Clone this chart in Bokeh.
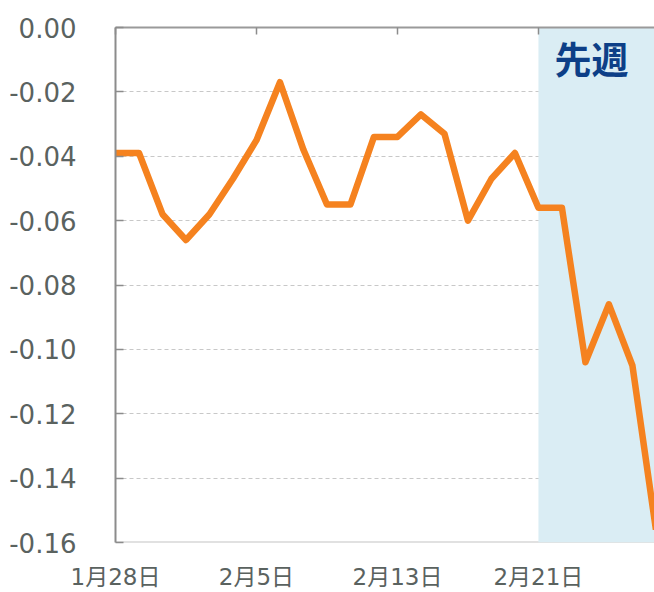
from bokeh.plotting import figure
from bokeh.models import (ColumnDataSource, FixedTicker, BoxAnnotation, Label, Span,
                          LinearAxis, NumeralTickFormatter, Range1d)
from bokeh.embed import file_html
from bokeh.resources import INLINE

# ---- data ----
dates = ["1月28日", "1月29日", "1月30日", "1月31日", "2月3日", "2月4日", "2月5日",
         "2月6日", "2月7日", "2月10日", "2月11日", "2月12日", "2月13日", "2月14日",
         "2月17日", "2月18日", "2月19日", "2月20日", "2月21日", "2月24日", "2月25日",
         "2月26日", "2月27日", "2月28日"]
values = [-0.039, -0.039, -0.058, -0.066, -0.058, -0.047, -0.035, -0.017, -0.038,
          -0.055, -0.055, -0.034, -0.034, -0.027, -0.033, -0.060, -0.047, -0.039,
          -0.056, -0.056, -0.104, -0.086, -0.105, -0.156]
tick_labels = ["1月28日", "2月5日", "2月13日", "2月21日"]
week_start = "2月21日"
week_label = "先週"
y_ticks = [0.00, -0.02, -0.04, -0.06, -0.08, -0.10, -0.12, -0.14, -0.16]

idx = list(range(len(dates)))
src = ColumnDataSource(dict(x=idx, y=values))
tick_pos = [dates.index(t) for t in tick_labels]
ws = dates.index(week_start)

W, H = 654, 592
p = figure(width=W, height=H, output_backend="svg", toolbar_location=None,
           x_axis_location=None, y_axis_location=None,
           min_border_left=115, min_border_right=0, min_border_top=27,
           min_border_bottom=49)
p.x_range = Range1d(0, 22.94)
p.y_range = Range1d(min(y_ticks), max(y_ticks))
p.outline_line_color = None
p.background_fill_color = "white"
p.border_fill_color = "white"

GREY = "#5a625f"

# grid
p.xgrid.visible = False
p.ygrid.ticker = FixedTicker(ticks=y_ticks)
p.ygrid.grid_line_color = "#c8c8c8"
p.ygrid.grid_line_dash = "4 3"
p.ygrid.grid_line_width = 1

# bottom baseline (under the shaded box)
p.add_layout(Span(location=min(y_ticks), dimension="width", line_color="#c4c4c4",
                  line_width=2, level="underlay"))

# shaded "last week" region
p.add_layout(BoxAnnotation(left=ws, fill_color="#daedf4", fill_alpha=1.0,
                           line_color=None, level="underlay"))

# line
p.line("x", "y", source=src, line_color="#f5821f", line_width=6.5,
       line_join="round", line_cap="butt")

# left axis
yax = LinearAxis(ticker=FixedTicker(ticks=y_ticks),
                 formatter=NumeralTickFormatter(format="0.00"))
yax.axis_line_color = "#8c8c8c"
yax.axis_line_width = 2
yax.major_tick_in = 8
yax.major_tick_out = 0
yax.major_tick_line_color = "#8c8c8c"
yax.major_tick_line_width = 1.5
yax.minor_tick_line_color = None
yax.major_label_standoff = 39
yax.major_label_text_font = "DejaVu Sans"
yax.major_label_text_font_size = "26px"
yax.major_label_text_color = GREY
p.add_layout(yax, "left")

# bottom axis (labels only)
xax = LinearAxis(ticker=FixedTicker(ticks=tick_pos))
xax.major_label_overrides = {pos: lab for pos, lab in zip(tick_pos, tick_labels)}
xax.axis_line_color = None
xax.major_tick_line_color = None
xax.major_tick_in = 0
xax.major_tick_out = 0
xax.minor_tick_line_color = None
xax.minor_tick_out = 0
xax.major_label_standoff = 21
xax.major_label_text_line_height = 0.7
xax.major_label_text_font = "'DejaVu Sans', 'Noto Sans CJK JP'"
xax.major_label_text_font_size = "23px"
xax.major_label_text_color = GREY
p.add_layout(xax, "below")

# top axis (line + inward ticks)
tax = LinearAxis(ticker=FixedTicker(ticks=tick_pos))
tax.axis_line_color = "#9a9a9a"
tax.axis_line_width = 2
tax.major_tick_in = 7
tax.major_tick_out = 0
tax.major_tick_line_color = "#8c8c8c"
tax.major_tick_line_width = 1.5
tax.minor_tick_line_color = None
tax.major_label_text_font_size = "0px"
tax.major_label_text_color = None
p.add_layout(tax, "above")

# label
p.add_layout(Label(x=ws, y=max(y_ticks), x_offset=16, y_offset=-3, text=week_label,
                   text_baseline="top", text_align="left",
                   text_font="Noto Sans CJK JP", text_font_style="bold",
                   text_font_size="37px", text_color="#0d3f87"))

open("out.html", "w").write(file_html(p, INLINE))
